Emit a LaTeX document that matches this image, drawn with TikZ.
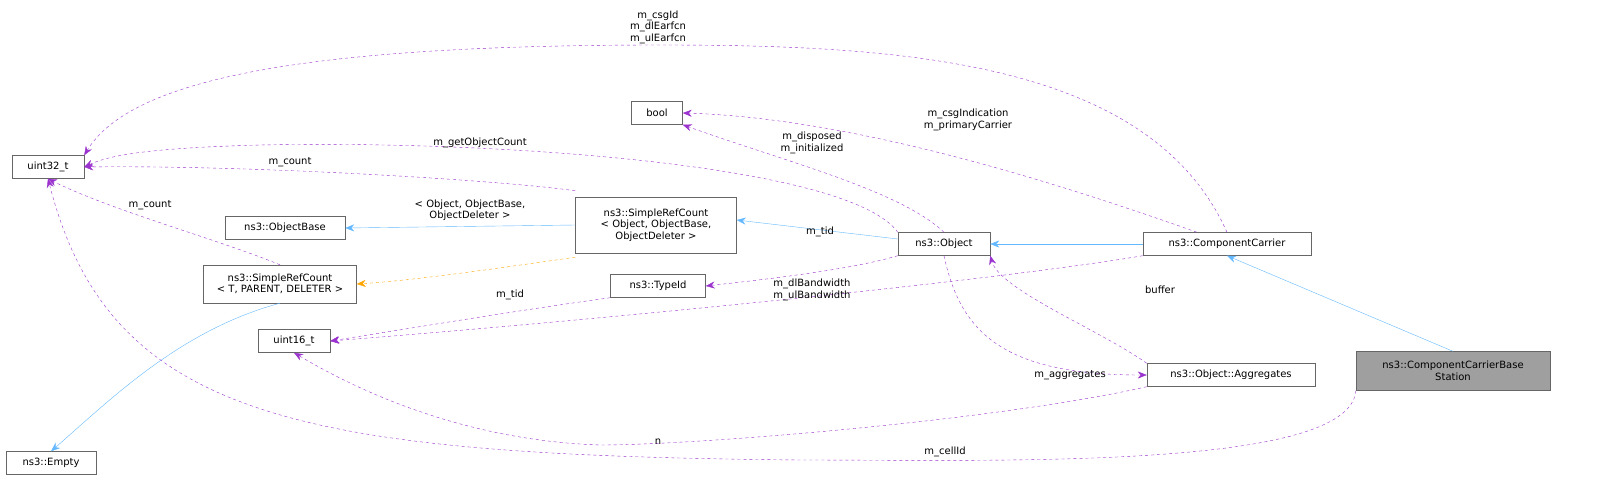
\documentclass[tikz,border=0pt]{standalone}
\usepackage{fontspec}
\setmainfont{DejaVu Sans}
\usetikzlibrary{arrows.meta}
\definecolor{purp}{HTML}{9A32CD}
\definecolor{blu}{HTML}{63B8FF}
\definecolor{ora}{HTML}{FFA500}
\definecolor{bord}{HTML}{666666}
\begin{document}
\begin{tikzpicture}[x=1pt,y=-1pt,font=\fontsize{10}{11.5}\selectfont,
 box/.style={draw=bord,fill=white,inner sep=3pt,align=center},
 dep/.style={purp,dashed,-{Stealth[length=9pt,width=7pt]}},
 inh/.style={blu,-{Stealth[length=9pt,width=7pt]}},
 tmpl/.style={ora,dashed,-{Stealth[length=9pt,width=7pt]}},
 lab/.style={align=center,inner sep=1pt}]
\useasboundingbox (0,0) rectangle (1608,477);
\node[box,minimum width=72,minimum height=23] (u32) at (48,167) {uint32\_t};
\node[box,minimum width=51,minimum height=23] (bool) at (657,113) {bool};
\node[box,minimum width=120,minimum height=23] (ob) at (285,228) {ns3::ObjectBase};
\node[box,minimum width=161,minimum height=56] (src) at (656,225) {ns3::SimpleRefCount\\< Object, ObjectBase,\\ObjectDeleter >};
\node[box,minimum width=153,minimum height=38] (srt) at (280,284) {ns3::SimpleRefCount\\< T, PARENT, DELETER >};
\node[box,minimum width=92,minimum height=23] (obj) at (944,244) {ns3::Object};
\node[box,minimum width=168,minimum height=23] (cc) at (1227,244) {ns3::ComponentCarrier};
\node[box,minimum width=95,minimum height=23] (tid) at (658,286) {ns3::TypeId};
\node[box,minimum width=72,minimum height=23] (u16) at (294,341) {uint16\_t};
\node[box,minimum width=168,minimum height=23] (agg) at (1231,375) {ns3::Object::Aggregates};
\node[box,fill=gray!75,minimum width=194,minimum height=39] (bs) at (1453,371) {ns3::ComponentCarrierBase\\Station};
\node[box,minimum width=90,minimum height=23] (emp) at (51,463) {ns3::Empty};

\draw[dep] (cc.north) .. controls (1150,60) and (900,45) .. (660,45) .. controls (300,45) and (130,80) .. (u32.north east);
\node[lab] at (658,27) {m\_csgId\\m\_dlEarfcn\\m\_ulEarfcn};
\draw[dep] ([xshift=-30]cc.north) .. controls (1050,180) and (850,118) .. (bool.east);
\node[lab] at (968,120) {m\_csgIndication\\m\_primaryCarrier};
\draw[dep] (obj.north) .. controls (900,190) and (780,160) .. (bool.south east);
\node[lab] at (812,143) {m\_disposed\\m\_initialized};
\draw[dep] (obj.north west) .. controls (850,165) and (500,140) .. (260,145) .. controls (150,148) and (110,155) .. (u32.east);
\node[lab] at (480,143) {m\_getObjectCount};
\draw[dep] ([yshift=6]src.north west) .. controls (500,180) and (250,165) .. (u32.east);
\node[lab] at (290,162) {m\_count};
\draw[dep] (srt.north) .. controls (220,240) and (110,210) .. (u32.south);
\node[lab] at (150,205) {m\_count};
\draw[inh] (src.west) -- (ob.east);
\draw[inh] ([yshift=5]obj.west) -- ([yshift=5]src.east);
\draw[inh] (cc.west) -- (obj.east);
\draw[inh] (bs.north) -- (cc.south);
\draw[tmpl] ([yshift=-4]src.south west) .. controls (520,265) and (420,280) .. (srt.east);
\node[lab] at (470,210) {< Object, ObjectBase,\\ObjectDeleter >};
\draw[inh] (srt.south) .. controls (180,330) and (110,400) .. (emp.north);
\draw[dep] (obj.south west) .. controls (850,270) and (760,280) .. (tid.east);
\node[lab] at (820,232) {m\_tid};
\draw[dep] (tid.south west) .. controls (520,310) and (400,330) .. (u16.east);
\node[lab] at (510,295) {m\_tid};
\draw[dep] (cc.south west) .. controls (1000,280) and (600,320) .. (u16.east);
\node[lab] at (812,290) {m\_dlBandwidth\\m\_ulBandwidth};
\draw[dep] (agg.north west) .. controls (1100,330) and (1000,290) .. (obj.south east);
\node[lab] at (1160,290) {buffer};
\draw[dep] (obj.south) .. controls (960,330) and (1000,375) .. (agg.west);
\node[lab] at (1070,375) {m\_aggregates};
\draw[dep] (agg.south west) .. controls (1000,420) and (700,445) .. (600,445) .. controls (450,440) and (340,380) .. (u16.south);
\node[lab] at (658,442) {n};
\draw[dep] (bs.south west) .. controls (1350,470) and (1000,460) .. (800,460) .. controls (300,455) and (110,420) .. (u32.south);
\node[lab] at (945,452) {m\_cellId};
\end{tikzpicture}
\end{document}
